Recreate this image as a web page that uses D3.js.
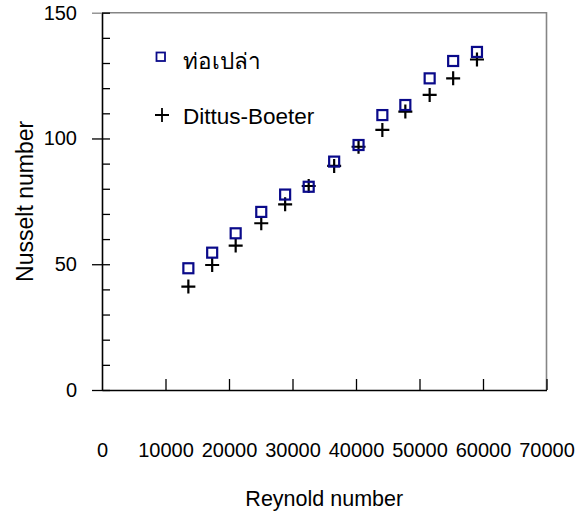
<!DOCTYPE html>
<meta charset="utf-8">
<style>

body {
  margin: 0;
  background: #fff;
}

svg {
  font-family: Arial, "Liberation Sans", sans-serif;
}

.axis text {
  font-size: 20px;
  fill: #000;
}

.title {
  font-size: 21.5px;
  text-anchor: middle;
}

.legend text {
  font-size: 22.5px;
}

</style>
<body>
<script src="https://cdn.jsdelivr.net/npm/d3@7"></script>
<script>

// Reynold numbers of the test runs
var reynolds = [13600, 17350, 21050, 25080, 28840, 32550, 36560, 40400, 44150, 47770, 51600, 55300, 59050];

// measured Nusselt number, plain tube
var nuTube = [48.4, 54.6, 62.3, 70.8, 77.7, 80.8, 90.8, 97.4, 109.3, 113.3, 123.9, 130.8, 134.4];

// Dittus-Boelter correlation
var nuDittus = [41.1, 49.7, 57.4, 66.3, 73.8, 81.1, 89.1, 96.7, 103.4, 110.7, 117.3, 123.9, 131.4];

var seriesNames = ["ท่อเปล่า", "Dittus-Boeter"];
var xTicks = [0, 10000, 20000, 30000, 40000, 50000, 60000, 70000];
var yTicks = [0, 50, 100, 150];

var width = 580,
    height = 512;

var x = d3.scaleLinear()
    .domain([0, 70000])
    .range([102, 546.5]);

var y = d3.scaleLinear()
    .domain([0, 150])
    .range([390, 12.7]);

var svg = d3.select("body").append("svg")
    .attr("width", width)
    .attr("height", height);

// gray frame on top and right
svg.append("path")
    .attr("d", "M" + x(0) + "," + y(150) + "H" + x(70000) + "V" + y(0))
    .attr("fill", "none")
    .attr("stroke", "#858585")
    .attr("stroke-width", 1.6);

// minor ticks inside the y axis
svg.append("g")
    .attr("transform", "translate(" + x(0) + ",0)")
    .call(d3.axisRight(y).tickValues(d3.range(0, 151, 10)).tickSize(8).tickFormat(""))
    .call(function(g) { g.select(".domain").remove(); })
    .selectAll("line")
      .attr("stroke", "#000")
      .attr("stroke-width", 1.3);

var yAxis = svg.append("g")
    .attr("class", "axis")
    .attr("transform", "translate(" + x(0) + ",0)")
    .call(d3.axisLeft(y).tickValues(yTicks).tickSize(10).tickPadding(15).tickSizeOuter(0));

yAxis.select(".domain").attr("stroke", "#000").attr("stroke-width", 1.6);
yAxis.selectAll("line").attr("stroke-width", 1.3);
yAxis.selectAll(".tick text").attr("font-family", null).attr("font-size", null);
yAxis.select(".tick:last-of-type line").attr("stroke", "#858585");

var xAxis = svg.append("g")
    .attr("class", "axis")
    .attr("transform", "translate(0," + y(0) + ")")
    .call(d3.axisBottom(x).tickValues(xTicks).tickSize(-11).tickPadding(53).tickSizeOuter(0).tickFormat(d3.format("d")));

xAxis.select(".domain").attr("stroke", "#000").attr("stroke-width", 1.6);
xAxis.selectAll("line").attr("stroke-width", 1.3);
xAxis.selectAll(".tick text").attr("font-family", null).attr("font-size", null);
xAxis.select(".tick:first-of-type line").remove();

svg.append("text")
    .attr("class", "title")
    .attr("x", (x.range()[0] + x.range()[1]) / 2)
    .attr("y", 506)
    .text("Reynold number");

svg.append("text")
    .attr("class", "title")
    .attr("transform", "translate(33," + (y.range()[0] + y.range()[1]) / 2 + ") rotate(-90)")
    .style("font-size", "23px")
    .text("Nusselt number");

function plus(cx, cy, r) {
  return "M" + (cx - r) + "," + cy + "H" + (cx + r) + "M" + cx + "," + (cy - r) + "V" + (cy + r);
}

// Dittus-Boelter crosses
svg.append("g").selectAll("path")
    .data(reynolds)
  .enter().append("path")
    .attr("d", function(d, i) { return plus(x(d), y(nuDittus[i]), 7); })
    .attr("stroke", "#000")
    .attr("stroke-width", 2.2)
    .attr("fill", "none");

// plain tube squares
svg.append("g").selectAll("rect")
    .data(reynolds)
  .enter().append("rect")
    .attr("x", function(d) { return x(d) - 5; })
    .attr("y", function(d, i) { return y(nuTube[i]) - 5; })
    .attr("width", 10)
    .attr("height", 10)
    .attr("fill", "none")
    .attr("stroke", "#0a0a8a")
    .attr("stroke-width", 2.2);

var legend = svg.append("g").attr("class", "legend");

legend.append("rect")
    .attr("x", 156.5)
    .attr("y", 52.5)
    .attr("width", 8.5)
    .attr("height", 8.5)
    .attr("fill", "none")
    .attr("stroke", "#0a0a8a")
    .attr("stroke-width", 1.8);

legend.append("text")
    .attr("x", 183)
    .attr("y", 69)
    .text(seriesNames[0]);

legend.append("path")
    .attr("d", plus(162, 115, 7))
    .attr("stroke", "#000")
    .attr("stroke-width", 1.8);

legend.append("text")
    .attr("x", 183)
    .attr("y", 124)
    .text(seriesNames[1]);

</script>
</body>
